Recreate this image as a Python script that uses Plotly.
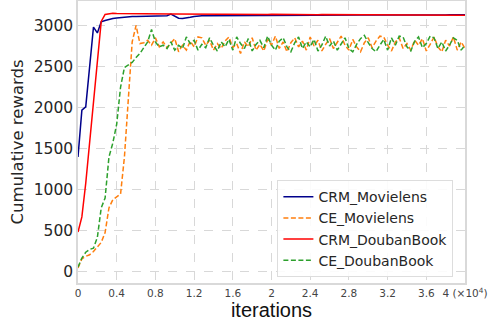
import plotly.graph_objects as go

# x in units of 10^4 iterations, sampled every 0.04
x_vals = [round(0.04 * i, 2) for i in range(101)]

crm_movielens = [1400, 1970, 2010, 2500, 2980, 2910, 3045, 3060, 3075, 3085,
                 3092, 3098, 3102, 3106, 3108, 3110, 3111, 3112, 3113, 3114,
                 3114, 3115, 3115, 3120, 3140, 3110, 3088, 3085, 3090, 3100,
                 3110, 3116, 3117, 3117, 3118, 3118, 3119, 3119, 3120, 3120,
                 3121, 3120, 3121, 3122, 3121, 3122, 3122, 3123, 3122, 3123,
                 3123, 3124, 3123, 3124, 3124, 3125, 3124, 3125, 3125, 3124,
                 3125, 3126, 3125, 3126, 3126, 3125, 3126, 3127, 3126, 3127,
                 3127, 3126, 3127, 3128, 3127, 3128, 3127, 3128, 3128, 3127,
                 3128, 3129, 3128, 3129, 3128, 3129, 3129, 3128, 3129, 3130,
                 3129, 3130, 3129, 3130, 3130, 3129, 3130, 3131, 3130, 3130,
                 3130]

ce_movielens = [50, 160, 190, 210, 250, 300, 360, 480, 780, 880,
                920, 950, 1400, 2150, 2800, 3000, 2780, 2790, 2820, 2760,
                2850, 2740, 2800, 2730, 2790, 2840, 2680, 2760, 2700, 2810,
                2740, 2860, 2850, 2760, 2820, 2700, 2780, 2720, 2810, 2860,
                2730, 2780, 2660, 2800, 2740, 2850, 2700, 2770, 2690, 2830,
                2760, 2870, 2720, 2800, 2680, 2790, 2850, 2740, 2810, 2700,
                2860, 2750, 2820, 2690, 2770, 2840, 2720, 2800, 2870, 2760,
                2700, 2830, 2740, 2680, 2790, 2850, 2730, 2810, 2870, 2860,
                2760, 2690, 2800, 2850, 2720, 2780, 2700, 2820, 2760, 2840,
                2690, 2770, 2860, 2740, 2680, 2820, 2750, 2860, 2700, 2800,
                2720]

crm_doubanbook = [487, 670, 1080, 1570, 2060, 2560, 3050, 3135, 3145, 3148,
                  3146, 3145, 3144, 3145, 3143, 3144, 3142, 3143, 3142, 3141,
                  3142, 3141, 3140, 3141, 3140, 3141, 3140, 3139, 3140, 3139,
                  3140, 3139, 3138, 3139, 3138, 3139, 3138, 3137, 3138, 3137,
                  3138, 3137, 3136, 3137, 3136, 3137, 3136, 3135, 3136, 3135,
                  3136, 3135, 3134, 3135, 3134, 3135, 3134, 3133, 3134, 3133,
                  3134, 3133, 3132, 3133, 3132, 3133, 3132, 3131, 3132, 3131,
                  3132, 3131, 3130, 3131, 3130, 3131, 3130, 3129, 3130, 3129,
                  3130, 3129, 3128, 3129, 3128, 3129, 3128, 3127, 3128, 3127,
                  3128, 3127, 3126, 3127, 3126, 3127, 3126, 3125, 3126, 3125,
                  3126]

ce_doubanbook = [60, 170, 240, 275, 290, 420, 780, 900, 1400, 1570,
                 1800, 2250, 2490, 2520, 2550, 2610, 2660, 2730, 2800, 2950,
                 2800, 2740, 2760, 2720, 2800, 2700, 2760, 2720, 2860, 2780,
                 2820, 2700, 2770, 2730, 2850, 2760, 2690, 2800, 2740, 2830,
                 2700, 2860, 2780, 2720, 2840, 2690, 2770, 2820, 2730, 2870,
                 2760, 2700, 2810, 2850, 2740, 2680, 2790, 2860, 2720, 2800,
                 2740, 2830, 2690, 2760, 2870, 2750, 2810, 2700, 2780, 2850,
                 2720, 2680, 2770, 2840, 2880, 2790, 2720, 2680, 2760, 2830,
                 2700, 2850, 2760, 2870, 2860, 2740, 2690, 2810, 2860, 2730,
                 2780, 2870, 2850, 2720, 2800, 2690, 2760, 2850, 2820, 2700,
                 2760]

x_tick_vals = [0, 0.4, 0.8, 1.2, 1.6, 2.0, 2.4, 2.8, 3.2, 3.6, 4.0]
x_tick_text = ["0", "0.4", "0.8", "1.2", "1.6", "2", "2.4", "2.8", "3.2", "3.6",
               "4 (×10<sup>4</sup>)"]
y_tick_vals = [0, 500, 1000, 1500, 2000, 2500, 3000]

series = [
    ("CRM_Movielens", crm_movielens, "#00008b", "solid"),
    ("CE_Movielens", ce_movielens, "#ff7f0e", "5px,2.5px"),
    ("CRM_DoubanBook", crm_doubanbook, "#ff0000", "solid"),
    ("CE_DoubanBook", ce_doubanbook, "#2ca02c", "5px,2.5px"),
]

fig = go.Figure()
for name, ys, color, dash in series:
    fig.add_trace(go.Scatter(x=x_vals, y=ys, mode="lines", name=name,
                             line=dict(color=color, width=1.5, dash=dash)))

fig.update_layout(
    width=490, height=324,
    margin=dict(l=78, r=25, t=1, b=41),
    paper_bgcolor="white", plot_bgcolor="white",
    font=dict(family="DejaVu Sans", color="#262626"),
    showlegend=True,
    legend=dict(x=0.97, y=0.021, xanchor="right", yanchor="bottom",
                bgcolor="rgba(255,255,255,0.9)", bordercolor="#dddddd", borderwidth=1,
                font=dict(size=14, family="DejaVu Sans", color="#262626"),
                tracegroupgap=0, itemwidth=30),
)
fig.update_xaxes(
    range=[0, 4.0], tickvals=x_tick_vals, ticktext=x_tick_text,
    tickfont=dict(size=10.5, color="#444444"),
    showgrid=True, gridcolor="#d8d8d8", griddash="dash", gridwidth=1,
    showline=True, linecolor="#d9d9d9", linewidth=1.5, mirror=True,
    zeroline=False, ticks="", automargin=False,
    title=dict(text="iterations", font=dict(size=20, family="Liberation Sans", color="#111111"),
               standoff=2),
)
fig.update_yaxes(
    range=[-134, 3298], tickvals=y_tick_vals,
    tickfont=dict(size=15.5, color="#262626"),
    showgrid=True, gridcolor="#d8d8d8", griddash="dash", gridwidth=1,
    showline=True, linecolor="#d9d9d9", linewidth=1.5, mirror=True,
    zeroline=False, ticks="", automargin=False,
    title=dict(text="Cumulative rewards", font=dict(size=16.5, family="DejaVu Sans", color="#262626"),
               standoff=6),
)

fig.write_html("out.html", config={"displayModeBar": False},
               post_script="document.body.style.margin='0';document.body.style.overflow='hidden';")
